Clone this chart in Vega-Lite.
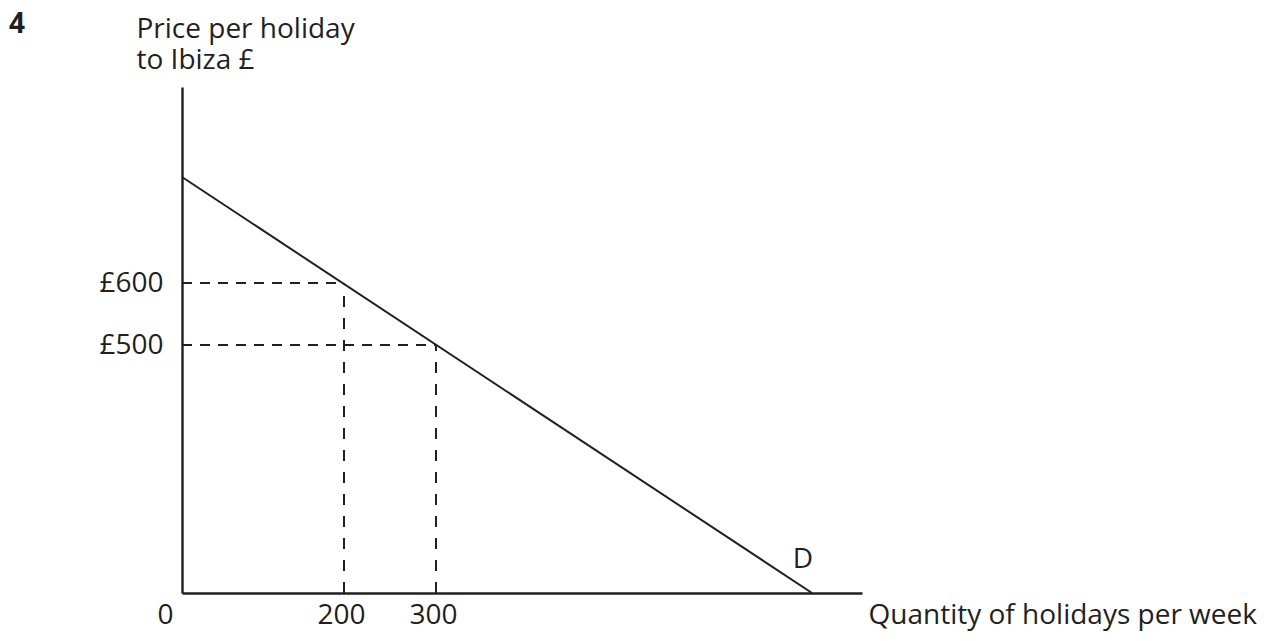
{
  "$schema": "https://vega.github.io/schema/vega-lite/v6.json",
  "width": 680,
  "height": 506,
  "autosize": "none",
  "padding": {"left": 182, "top": 87, "right": 405, "bottom": 48},
  "background": "white",
  "config": {
    "view": {"stroke": null},
    "font": "Open Sans",
    "axis": {"grid": false, "ticks": false, "domainColor": "#231f20", "domainWidth": 2.4, "labelColor": "#231f20", "titleColor": "#231f20", "labelFont": "Open Sans", "titleFont": "Open Sans", "labelFontSize": 28, "titleFontSize": 28, "titleFontWeight": "normal"}
  },
  "title": {"text": "4", "anchor": "start", "frame": "group", "dx": -173, "dy": 50, "fontSize": 28, "fontWeight": "bold", "font": "Open Sans", "color": "#231f20", "baseline": "alphabetic"},
  "layer": [
    {
      "data": {"values": [{"quantity": 0, "price": 800}, {"quantity": 800, "price": 0}]},
      "mark": {"type": "line", "color": "#231f20", "strokeWidth": 2},
      "encoding": {
        "x": {"field": "quantity", "type": "quantitative",
          "scale": {"domain": [0, 200, 300, 800, 865], "range": [0, 162, 254, 630, 680], "nice": false, "zero": false},
          "axis": {"values": [0, 200, 300], "labelFlush": false, "labelOverlap": false, "labelBound": false, "labelPadding": 8,
            "labelAlign": {"condition": {"test": "datum.value === 0", "value": "right"}, "value": "center"},
            "labelOffset": {"condition": {"test": "datum.value === 0", "value": -9}, "value": -3},
            "title": "Quantity of holidays per week", "titleAlign": "left", "titleBaseline": "alphabetic", "titleX": 686, "titleY": 30}},
        "y": {"field": "price", "type": "quantitative",
          "scale": {"domain": [0, 500, 600, 800, 1000], "range": [506, 258, 196, 90, 0], "nice": false, "zero": false},
          "axis": {"values": [500, 600], "labelExpr": "'£' + datum.value", "labelPadding": 19, "labelOverlap": false, "labelFlush": false, "labelBound": false,
            "title": ["Price per holiday", "to Ibiza £"], "titleAngle": 0, "titleAlign": "left", "titleBaseline": "alphabetic", "titleX": -46, "titleY": -50, "titleLineHeight": 31}}
      }
    },
    {
      "data": {"values": [{"price": 600, "q_start": 0, "q_end": 200}, {"price": 500, "q_start": 0, "q_end": 300}]},
      "mark": {"type": "rule", "color": "#231f20", "strokeWidth": 2, "strokeDash": [10, 8]},
      "encoding": {
        "x": {"field": "q_start", "type": "quantitative"},
        "x2": {"field": "q_end"},
        "y": {"field": "price", "type": "quantitative"}
      }
    },
    {
      "data": {"values": [{"quantity": 200, "p_start": 0, "p_end": 600}, {"quantity": 300, "p_start": 0, "p_end": 500}]},
      "mark": {"type": "rule", "color": "#231f20", "strokeWidth": 2, "strokeDash": [11, 11]},
      "encoding": {
        "x": {"field": "quantity", "type": "quantitative"},
        "y": {"field": "p_start", "type": "quantitative"},
        "y2": {"field": "p_end"}
      }
    },
    {
      "data": {"values": [{"label": "D", "quantity": 788, "price": 66}]},
      "mark": {"type": "text", "fontSize": 28, "font": "Open Sans", "color": "#231f20", "baseline": "middle", "align": "center"},
      "encoding": {
        "x": {"field": "quantity", "type": "quantitative"},
        "y": {"field": "price", "type": "quantitative"},
        "text": {"field": "label"}
      }
    }
  ]
}
